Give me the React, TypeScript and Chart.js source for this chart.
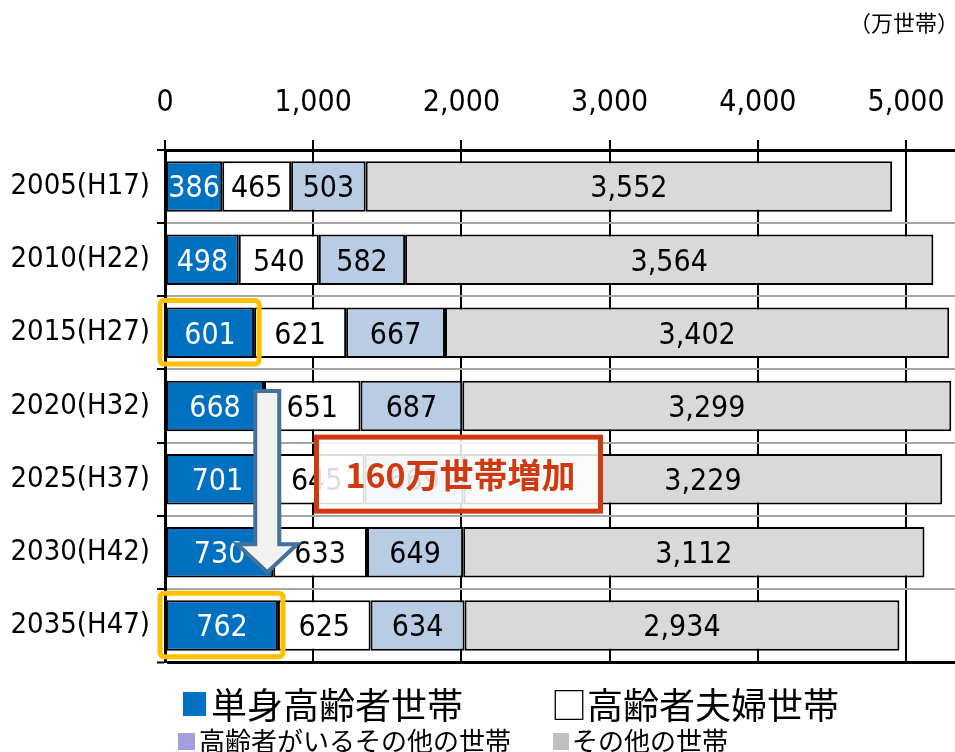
import React, { useEffect, useRef } from "react";
import { Chart, registerables } from "chart.js";

Chart.register(...registerables);

const categories = ["2005(H17)", "2010(H22)", "2015(H27)", "2020(H32)", "2025(H37)", "2030(H42)", "2035(H47)"];
const singleElderly = [386, 498, 601, 668, 701, 730, 762];
const elderlyCouple = [465, 540, 621, 651, 645, 633, 625];
const otherWithElderly = [503, 582, 667, 687, 669, 649, 634];
const otherHouseholds = [3552, 3564, 3402, 3299, 3229, 3112, 2934];
const seriesNames = ["単身高齢者世帯", "高齢者夫婦世帯", "高齢者がいるその他の世帯", "その他の世帯"];
const seriesColors = ["#0070C0", "#FFFFFF", "#B8CCE4", "#D9D9D9"];
const labelColors = ["#FFFFFF", "#000000", "#000000", "#000000"];
const xTicks = [0, 1000, 2000, 3000, 4000, 5000];
const xMax = 5330;
const unitLabel = "（万世帯）";
const calloutText = "160万世帯増加";
const highlightedRows = [2, 6];
const arrowFromRow = 3;
const arrowToRow = 5;
const arrowValue = 690;
const calloutRow = 4;
const calloutValue = 1980;

const NUM_FONT = '"DejaVu Sans Condensed", "Liberation Sans", sans-serif';
const CJK_FONT = '"Noto Sans CJK JP", "Noto Sans", sans-serif';

const fmt = (v: number) => v.toLocaleString("en-US");

const overlayPlugin = {
  id: "overlay",
  afterDatasetsDraw(chart: any) {
    const ctx = chart.ctx;
    ctx.save();
    ctx.font = `30px ${NUM_FONT}`;
    ctx.textAlign = "center";
    ctx.textBaseline = "middle";
    chart.data.datasets.forEach((ds: any, di: number) => {
      const meta = chart.getDatasetMeta(di);
      meta.data.forEach((bar: any, i: number) => {
        const { x, base, y } = bar.getProps(["x", "base", "y"], true);
        ctx.fillStyle = labelColors[di];
        ctx.fillText(fmt(ds.data[i]), (x + base) / 2, y + 3);
      });
    });
    ctx.restore();
  },
  afterDraw(chart: any) {
    const ctx = chart.ctx;
    const xs = chart.scales.x;
    const ys = chart.scales.y;
    ctx.save();

    // highlight boxes
    const meta0 = chart.getDatasetMeta(0);
    highlightedRows.forEach((r) => {
      const bar = meta0.data[r];
      const { x, base, y, height } = bar.getProps(["x", "base", "y", "height"], true);
      const left = base - 6;
      const right = x + 5;
      const top = y - height / 2 - 7;
      const bottom = y + height / 2 + 6;
      ctx.beginPath();
      ctx.roundRect(left, top, right - left, bottom - top, 4);
      ctx.strokeStyle = "#FFC000";
      ctx.lineWidth = 5;
      ctx.stroke();
    });

    // arrow
    const cx = xs.getPixelForValue(arrowValue);
    const top = ys.getPixelForValue(arrowFromRow) - 15;
    const tip = ys.getPixelForValue(arrowToRow) + 20;
    const sh = 12, hh = 30, hl = 28;
    ctx.beginPath();
    ctx.moveTo(cx - sh, top);
    ctx.lineTo(cx + sh, top);
    ctx.lineTo(cx + sh, tip - hl);
    ctx.lineTo(cx + hh, tip - hl);
    ctx.lineTo(cx, tip);
    ctx.lineTo(cx - hh, tip - hl);
    ctx.lineTo(cx - sh, tip - hl);
    ctx.closePath();
    ctx.fillStyle = "#F2F2F2";
    ctx.fill();
    ctx.strokeStyle = "#41719C";
    ctx.lineWidth = 4;
    ctx.lineJoin = "miter";
    ctx.stroke();

    // callout
    const bx = xs.getPixelForValue(calloutValue);
    const by = ys.getPixelForValue(calloutRow) - 5;
    const bw = 284, bh = 74;
    ctx.fillStyle = "rgba(255,255,255,0.86)";
    ctx.fillRect(bx - bw / 2, by - bh / 2, bw, bh);
    ctx.strokeStyle = "#D0390F";
    ctx.lineWidth = 5;
    ctx.strokeRect(bx - bw / 2, by - bh / 2, bw, bh);
    ctx.fillStyle = "#D0390F";
    ctx.font = `bold 34px ${CJK_FONT}`;
    ctx.textAlign = "center";
    ctx.textBaseline = "middle";
    ctx.fillText(calloutText, bx + 2, by + 1);

    // unit label
    ctx.fillStyle = "#000";
    ctx.font = `22px ${CJK_FONT}`;
    ctx.textAlign = "right";
    ctx.textBaseline = "middle";
    ctx.fillText(unitLabel, 959, 23);

    // legend
    ctx.textAlign = "left";
    ctx.textBaseline = "middle";
    ctx.fillStyle = seriesColors[0];
    ctx.fillRect(183, 692, 23, 24);
    ctx.fillStyle = "#000";
    ctx.font = `36px ${CJK_FONT}`;
    ctx.fillText(seriesNames[0], 211, 705);
    ctx.fillText("□" + seriesNames[1], 551, 705);

    ctx.fillStyle = "#A0A0DC";
    ctx.fillRect(178, 733, 17, 17);
    ctx.fillStyle = "#BFBFBF";
    ctx.fillRect(553, 733, 16, 17);
    ctx.fillStyle = "#000";
    ctx.font = `26px ${CJK_FONT}`;
    ctx.fillText(seriesNames[2], 199, 741);
    ctx.fillText(seriesNames[3], 572, 741);

    ctx.restore();
  },
};

export default function App() {
  const ref = useRef<HTMLCanvasElement | null>(null);
  useEffect(() => {
    if (!ref.current) return;
    const values = [singleElderly, elderlyCouple, otherWithElderly, otherHouseholds];
    const chart = new Chart(ref.current, {
      type: "bar",
      data: {
        labels: categories,
        datasets: values.map((d, i) => ({
          label: seriesNames[i],
          data: d,
          backgroundColor: seriesColors[i],
          borderColor: "#000000",
          borderWidth: 2,
          borderSkipped: false,
          barPercentage: 0.69,
          categoryPercentage: 1,
        })),
      },
      options: {
        indexAxis: "y",
        animation: false,
        responsive: false,
        maintainAspectRatio: false,
        layout: { padding: { top: 0, right: 0, bottom: 90, left: 0 } },
        plugins: { legend: { display: false }, tooltip: { enabled: false } },
        scales: {
          x: {
            position: "top",
            stacked: true,
            min: 0,
            max: xMax,
            ticks: {
              stepSize: 1000,
              color: "#000",
              font: { family: NUM_FONT, size: 30 },
              padding: 19,
              maxRotation: 0,
              autoSkip: false,
            },
            grid: { color: "#000", lineWidth: 2, tickLength: 10, tickColor: "#000", tickWidth: 2 },
            border: { color: "#000", width: 3 },
            afterBuildTicks: (s: any) => {
              s.ticks = xTicks.map((v) => ({ value: v }));
            },
            afterFit: (s: any) => {
              s.height = 150;
              s.paddingLeft = 0;
              s.paddingRight = 0;
            },
          },
          y: {
            stacked: true,
            ticks: { color: "#000", font: { family: NUM_FONT, size: 29 }, padding: 7 },
            grid: {
              offset: true,
              color: (c: any) => (c.type === "tick" ? "#A6A6A6" : "#000"),
              lineWidth: (c: any) => (c.type === "tick" ? 2 : 3),
              tickLength: 8,
              tickColor: "#000",
              tickWidth: 2,
            },
            border: { color: "#000", width: 3 },
            afterFit: (s: any) => {
              s.width = 165;
            },
          },
        },
      } as any,
      plugins: [overlayPlugin],
    });
    return () => chart.destroy();
  }, []);
  return (
    <div style={{ position: "fixed", left: 0, top: 0, width: 955, height: 752, background: "#fff" }}>
      <canvas ref={ref} width={955} height={752} style={{ display: "block" }} />
    </div>
  );
}
